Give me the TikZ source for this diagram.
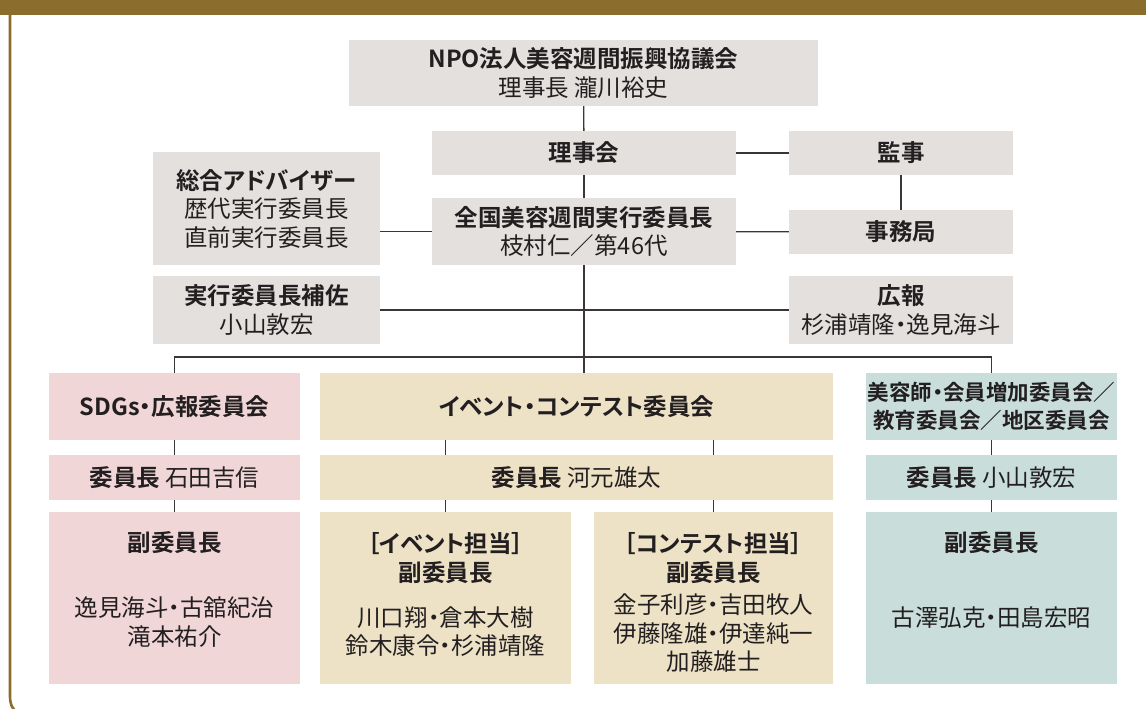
\documentclass[tikz,border=0pt]{standalone}
\usepackage{fontspec}
\setmainfont{Noto Sans CJK JP}[BoldFont={Noto Sans CJK JP Bold},RawFeature=+palt]
\definecolor{band}{HTML}{8B6D2E}
\definecolor{grayf}{HTML}{E3E0DE}
\definecolor{pinkf}{HTML}{F1D6D8}
\definecolor{beigef}{HTML}{EDE2C6}
\definecolor{greenf}{HTML}{C9DEDA}
\definecolor{ink}{HTML}{231F20}
\definecolor{linec}{HTML}{3A3635}
\begin{document}
\begin{tikzpicture}[x=1pt,y=-1pt,
  box/.style={rectangle,inner sep=0pt,align=center,text=ink,font=\fontsize{23.5}{28.5}\selectfont},
  gbox/.style={box,fill=grayf},
  pbox/.style={box,fill=pinkf},
  bbox/.style={box,fill=beigef},
  cbox/.style={box,fill=greenf},
  txt/.style={inner sep=0pt,align=center,text=ink,font=\fontsize{23.5}{28.5}\selectfont},
  conn/.style={draw=linec,line width=1.3pt}]
\useasboundingbox (0,0) rectangle (1146,709);
\fill[band] (0,0) rectangle (1146,15.5);
\draw[band,line width=2.6pt] (10,15) -- (10,696) .. controls (10,704) and (12,709) .. (17,712);
% top boxes
\node[gbox,minimum width=469pt,minimum height=66pt] (npo) at (583.5,73) {\textbf{NPO法人美容週間振興協議会}\\理事長 瀧川裕史};
\node[gbox,minimum width=304pt,minimum height=44pt] (riji) at (584,153) {\textbf{理事会}};
\node[gbox,minimum width=224pt,minimum height=44pt] (kanji) at (901,153) {\textbf{監事}};
\node[gbox,minimum width=224pt,minimum height=44pt] (jimu) at (901,232) {\textbf{事務局}};
\node[gbox,minimum width=304pt,minimum height=67pt] (zen) at (584,231.5) {\textbf{全国美容週間実行委員長}\\枝村仁／第46代};
\node[gbox,minimum width=227pt,minimum height=113pt] (sogo) at (266.5,208.5) {\textbf{総合アドバイザー}\\歴代実行委員長\\直前実行委員長};
\node[gbox,minimum width=227pt,minimum height=68pt] (hosa) at (266.5,310) {\textbf{実行委員長補佐}\\小山敦宏};
\node[gbox,minimum width=224pt,minimum height=68pt] (koho) at (901,310) {\textbf{広報}\\杉浦靖隆・逸見海斗};
% committees
\node[pbox,minimum width=251pt,minimum height=67pt] (sdgs) at (174.5,406.5) {\textbf{SDGs・広報委員会}};
\node[bbox,minimum width=513pt,minimum height=67pt] (ev) at (576.5,406.5) {\textbf{イベント・コンテスト委員会}};
\node[cbox,minimum width=251pt,minimum height=67pt,font=\fontsize{21.5}{28.5}\selectfont] (bi) at (991.5,406.5) {\textbf{美容師・会員増加委員会／}\\\textbf{教育委員会／地区委員会}};
\node[pbox,minimum width=251pt,minimum height=45pt] (sdgsc) at (174.5,477.5) {\textbf{委員長} 石田吉信};
\node[bbox,minimum width=513pt,minimum height=45pt] (evc) at (576.5,477.5) {\textbf{委員長} 河元雄太};
\node[cbox,minimum width=251pt,minimum height=45pt] (bic) at (991.5,477.5) {\textbf{委員長} 小山敦宏};
\node[pbox,minimum width=251pt,minimum height=172pt] (sdgsv) at (174.5,598) {};
\node[bbox,minimum width=251pt,minimum height=172pt] (eva) at (445.5,598) {};
\node[bbox,minimum width=239pt,minimum height=172pt] (evb) at (713.5,598) {};
\node[cbox,minimum width=251pt,minimum height=172pt] (biv) at (991.5,598) {};
\node[txt] (sdgsvt) at (174.5,543) {\textbf{副委員長}};
\node[txt] (sdgsvn) at (174.5,622) {逸見海斗・古舘紀治\\滝本祐介};
\node[txt] (evat) at (445.5,558) {\textbf{［イベント担当］}\\\textbf{副委員長}};
\node[txt] (evan) at (445.5,631.5) {川口翔・倉本大樹\\鈴木康令・杉浦靖隆};
\node[txt] (evbt) at (713.5,558) {\textbf{［コンテスト担当］}\\\textbf{副委員長}};
\node[txt] (evbn) at (713.5,633.5) {金子利彦・吉田牧人\\伊藤隆雄・伊達純一\\加藤雄士};
\node[txt] (bivt) at (991.5,543) {\textbf{副委員長}};
\node[txt] (bivn) at (991.5,618) {古澤弘克・田島宏昭};
% connectors
\coordinate (br) at (584,357);
\draw[conn] (npo) -- (riji);
\draw[conn] (riji) -- (kanji);
\draw[conn] (kanji) -- (jimu);
\draw[conn] (riji) -- (zen);
\draw[conn] (zen.west) -- (zen.west -| sogo.east);
\draw[conn] (zen) -- (jimu);
\draw[conn] (hosa) -- (koho);
\draw[conn] (zen.south) -- (zen.south |- ev.north);
\draw[conn] (sdgs.north) |- (br) -| (bi.north);
\draw[conn] (sdgs) -- (sdgsc);
\draw[conn] (sdgsc) -- (sdgsv);
\draw[conn] (bi) -- (bic);
\draw[conn] (bic) -- (biv);
\draw[conn] (ev.south -| eva.north) -- (evc.north -| eva.north);
\draw[conn] (ev.south -| evb.north) -- (evc.north -| evb.north);
\draw[conn] (evc.south -| eva.north) -- (eva.north);
\draw[conn] (evc.south -| evb.north) -- (evb.north);
\end{tikzpicture}
\end{document}
